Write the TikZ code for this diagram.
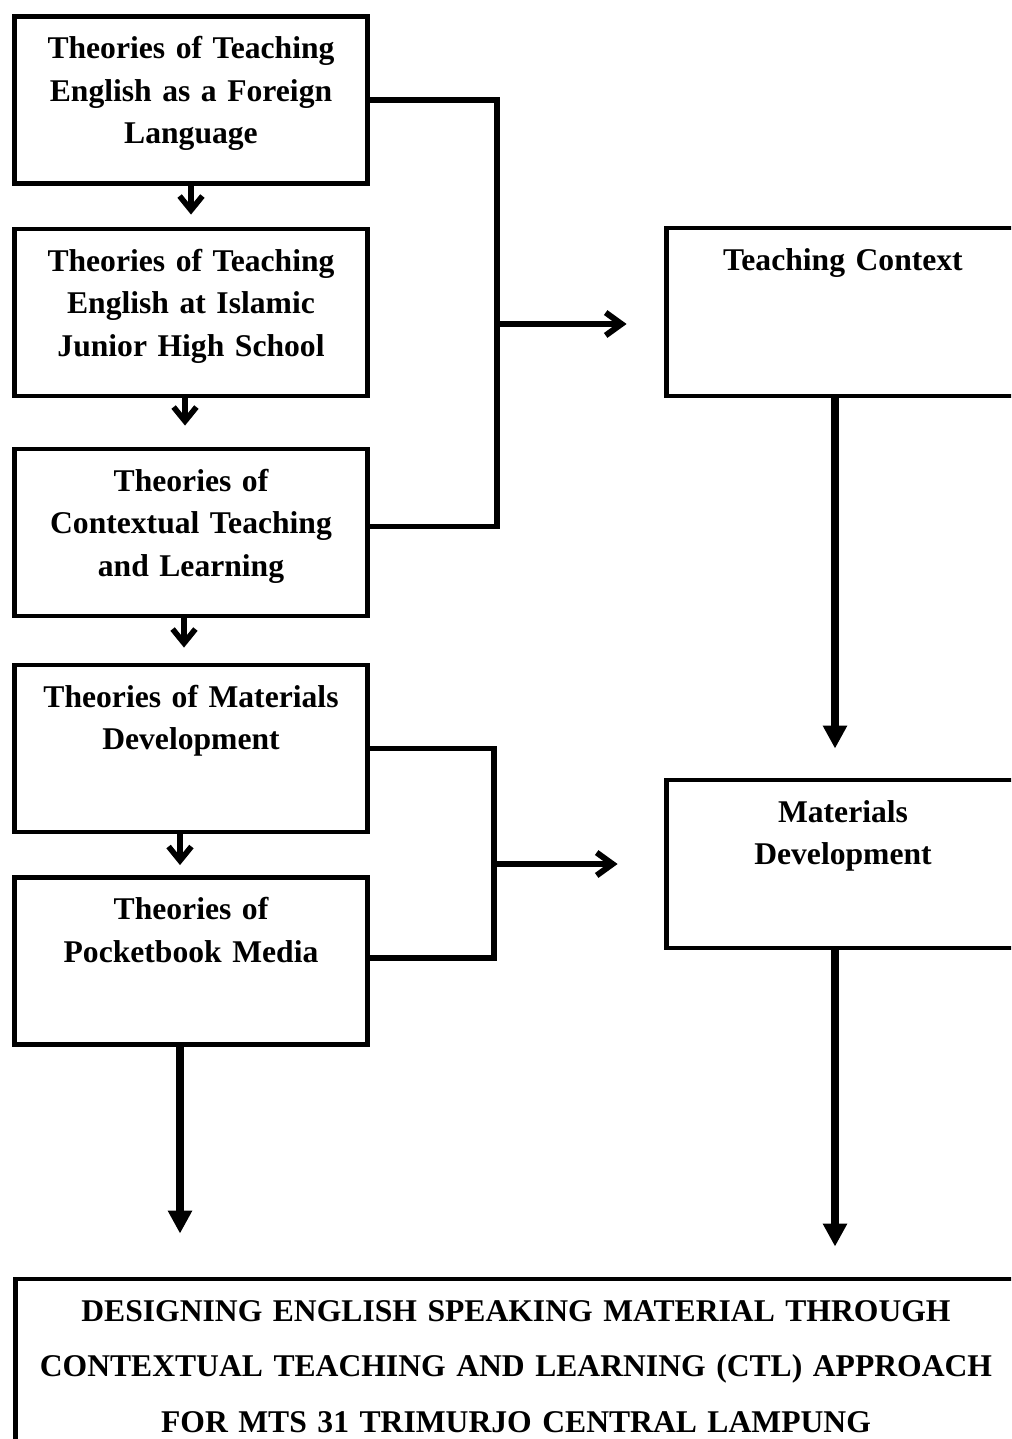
\documentclass[tikz,border=0pt]{standalone}
\usepackage{fontspec}
\setmainfont{Liberation Serif}
\usetikzlibrary{arrows.meta}

\tikzset{
  theory/.style={draw, line width=2.8pt, minimum width=7.06cm, text width=6.8cm, align=center,
    inner sep=0pt, text height=0.84cm, text depth=2.5cm, font=\fontsize{18}{24.2}\selectfont\bfseries},
  stage/.style={theory, minimum width=7.08cm, text depth=2.52cm},
  goal/.style={theory, minimum width=20.04cm, text width=19.6cm, text depth=3.58cm,
    font=\fontsize{18}{31.75}\selectfont\bfseries},
  nextarrow/.style={line width=3.2pt, -{Straight Barb[length=8pt,width=13pt]}},
  sidearrow/.style={line width=3.4pt, -{Straight Barb[length=9pt,width=13pt]}},
  longarrow/.style={line width=4.2pt, -{Triangle[length=13pt,width=13pt]}},
  bracket/.style={line width=3.4pt},
}

\begin{document}
\begin{tikzpicture}[x=0.02cm, y=-0.02cm]
\useasboundingbox (0,0) rectangle (1011,1439);
\clip (0,0) rectangle (1011,1439);

% theories column
\node[theory] (foreign) at (191,100) {Theories of Teaching\\English as a Foreign\\Language};
\node[theory] (islamic) at (191,312.5) {Theories of Teaching\\English at Islamic\\Junior High School};
\node[theory] (ctl) at (191,532.5) {Theories of\\Contextual Teaching\\and Learning};
\node[theory] (materials) at (191,748.5) {Theories of Materials\\Development};
\node[theory] (pocketbook) at (191,961) {Theories of\\Pocketbook Media};

% right column
\node[stage] (context) at (843,312) {Teaching Context};
\node[stage] (develop) at (843,864) {Materials\\Development};

% product
\node[goal] (design) at (516,1389.5) {DESIGNING ENGLISH SPEAKING MATERIAL THROUGH\\CONTEXTUAL TEACHING AND LEARNING (CTL) APPROACH\\FOR MTS 31 TRIMURJO CENTRAL LAMPUNG};

\coordinate (join1) at (497,324);
\coordinate (join2) at (494,864);

\draw[nextarrow, shorten >=0.24cm] (foreign.south) -- (islamic.north);
\draw[nextarrow, shorten >=0.42cm] ([xshift=-0.12cm]islamic.south) -- ([xshift=-0.12cm]ctl.north);
\draw[nextarrow, shorten >=0.3cm] ([xshift=-0.14cm]ctl.south) -- ([xshift=-0.14cm]materials.north);
\draw[nextarrow, shorten >=0.2cm] ([xshift=-0.22cm]materials.south) -- ([xshift=-0.22cm]pocketbook.north);

\draw[bracket] (foreign.east) -| (join1) |- ([yshift=0.12cm]ctl.east);
\draw[sidearrow, shorten >=0.74cm] (join1) -- (join1 -| context.west);
\draw[bracket] (materials.east) -| (join2) |- ([yshift=0.06cm]pocketbook.east);
\draw[sidearrow, shorten >=0.92cm] (join2) -- (join2 -| develop.west);

\draw[longarrow, shorten >=0.58cm] ([xshift=-0.16cm]context.south) -- ([xshift=-0.16cm]develop.north);
\draw[longarrow, shorten >=0.6cm] ([xshift=-0.16cm]develop.south) -- ([xshift=-0.16cm]develop.south |- design.north);
\draw[longarrow, shorten >=0.86cm] ([xshift=-0.22cm]pocketbook.south) -- ([xshift=-0.22cm]pocketbook.south |- design.north);
\end{tikzpicture}
\end{document}
